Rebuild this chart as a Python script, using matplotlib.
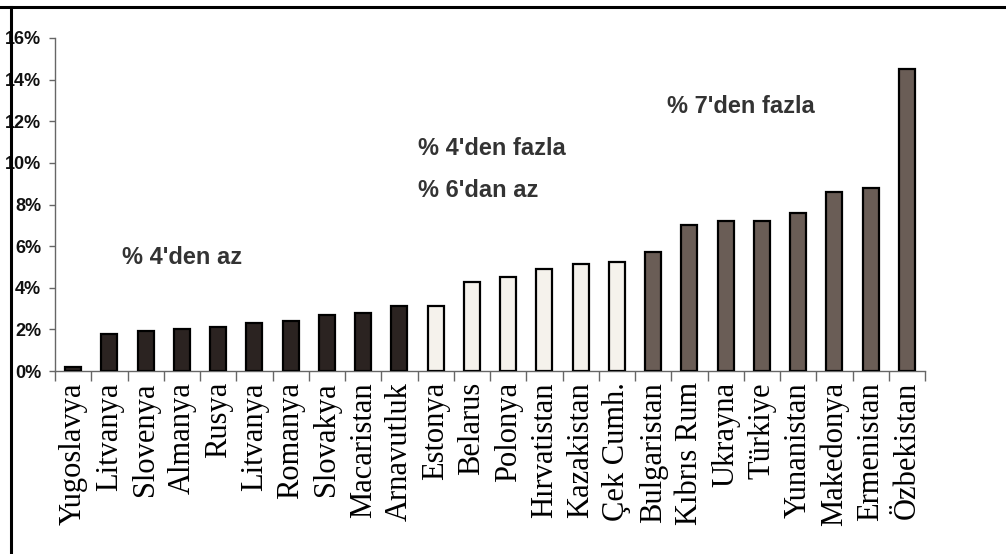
import matplotlib
matplotlib.use("Agg")
import matplotlib.pyplot as plt
from matplotlib.lines import Line2D
from matplotlib.ticker import FixedLocator, FuncFormatter
import numpy as np

countries = ["Yugoslavya", "Litvanya", "Slovenya", "Almanya", "Rusya", "Litvanya",
             "Romanya", "Slovakya", "Macaristan", "Arnavutluk", "Estonya", "Belarus",
             "Polonya", "Hırvatistan", "Kazakistan", "Çek Cumh.", "Bulgaristan",
             "Kıbrıs Rum", "Ukrayna", "Türkiye", "Yunanistan", "Makedonya",
             "Ermenistan", "Özbekistan"]
values = [0.2, 1.8, 1.9, 2.0, 2.1, 2.3, 2.4, 2.7, 2.8, 3.1, 3.1, 4.3, 4.5, 4.9,
          5.15, 5.25, 5.7, 7.0, 7.2, 7.2, 7.6, 8.6, 8.8, 14.5]
groups = [0] * 10 + [1] * 6 + [2] * 8
group_colors = ["#2b2321", "#f5f2ec", "#6a5d56"]
yticks = [0, 2, 4, 6, 8, 10, 12, 14, 16]

annotations = [("% 4'den az", 1.35, 5.43),
               ("% 4'den fazla", 9.5, 10.67),
               ("% 6'dan az", 9.5, 8.66),
               ("% 7'den fazla", 16.38, 12.7)]

W, H = 1006, 554
fig = plt.figure(figsize=(W / 100, H / 100), dpi=100)
fig.patch.set_facecolor("white")

x0, x1, yb, yt = 55, 925, 371, 38
ax = fig.add_axes([x0 / W, 1 - yb / H, (x1 - x0) / W, (yb - yt) / H])
ax.set_facecolor("none")

n = len(countries)
x = np.arange(n)
colors = [group_colors[g] for g in groups]
ax.bar(x, values, width=0.44, color=colors, edgecolor="black", linewidth=1.6, zorder=3)

ax.set_xlim(-0.5, n - 0.5)
ax.set_ylim(0, 16)

for s in ["top", "right"]:
    ax.spines[s].set_visible(False)
for s in ["left", "bottom"]:
    ax.spines[s].set_color("#666666")
    ax.spines[s].set_linewidth(1.0)

ax.set_yticks(yticks)
ax.yaxis.set_major_formatter(FuncFormatter(lambda v, p: f"{int(v)}%"))
ax.tick_params(axis="y", direction="out", length=4, width=1, color="#666666", pad=6)
for lbl in ax.get_yticklabels():
    lbl.set_fontfamily(["Liberation Sans", "DejaVu Sans"])
    lbl.set_fontweight("bold")
    lbl.set_fontsize(13)
    lbl.set_color("#111111")

# category labels at centers, tick marks at boundaries
ax.set_xticks(x)
ax.set_xticklabels(countries, rotation=90, fontfamily=["Liberation Serif", "DejaVu Serif"],
                   fontsize=22, va="top", ha="center")
ax.tick_params(axis="x", which="major", length=0, pad=8)
ax.xaxis.set_minor_locator(FixedLocator(np.arange(n + 1) - 0.5))
ax.tick_params(axis="x", which="minor", direction="out", length=7, width=1, color="#666666")

for txt, tx, ty in annotations:
    ax.text(tx, ty, txt, ha="left", va="center", fontsize=17, fontweight="bold",
            fontfamily=["Liberation Sans", "DejaVu Sans"], color="#333333")

# outer frame lines
fig.add_artist(Line2D([0, 1], [1 - 7 / H, 1 - 7 / H], color="black", linewidth=2.2,
                      transform=fig.transFigure))
fig.add_artist(Line2D([11 / W, 11 / W], [0, 1 - 7 / H], color="black", linewidth=2.2,
                      transform=fig.transFigure))

fig.savefig("out.png", dpi=100)
